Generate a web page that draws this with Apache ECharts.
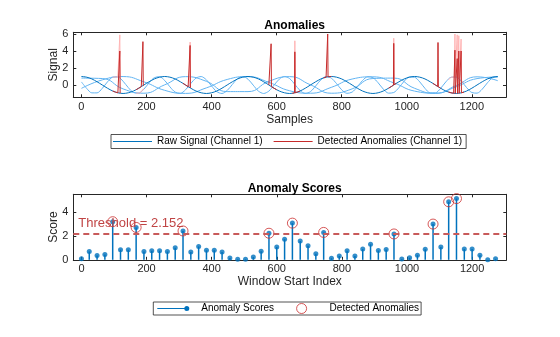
<!DOCTYPE html>
<html><head><meta charset="utf-8">
<script src="https://cdn.jsdelivr.net/npm/echarts@6/dist/echarts.min.js"></script>
<style>html,body{margin:0;padding:0;background:#fff}#c{width:560px;height:337px}</style>
</head><body><div id="c"></div>
<script>
// ---------- data ----------
const ch1Step = 16;
const ch1Values = [1,0.92,0.71,0.38,0,-0.38,-0.71,-0.92,-1,-0.92,-0.71,-0.38,0,0.38,0.71,0.92,
 1,0.92,0.71,0.38,0,-0.38,-0.71,-0.92,-1,-0.92,-0.71,-0.38,0,0.38,0.71,0.92,
 1,0.92,0.71,0.38,0,-0.38,-0.71,-0.92,-1,-0.92,-0.71,-0.38,0,0.38,0.71,0.92,
 1,0.92,0.71,0.38,0,-0.38,-0.71,-0.92,-1,-0.92,-0.71,-0.38,0,0.38,0.71,0.92,
 1,0.92,0.71,0.38,0,-0.38,-0.71,-0.92,-1,-0.92,-0.71,-0.38,0,0.38,0.71,0.92,1];
const chAStep = 16;
const chAValues = [0.36,-0.4,-0.93,-0.93,-0.4,0.36,0.91,0.94,0.44,-0.31,-0.89,-0.96,-0.49,0.26,0.86,0.97,
 0.53,-0.22,-0.84,-0.98,-0.57,0.17,0.81,0.99,0.61,-0.12,-0.78,-1,-0.65,0.07,0.75,1,
 0.68,-0.02,-0.72,-1,-0.72,-0.02,0.68,1,0.75,0.07,-0.65,-1,-0.78,-0.12,0.61,0.99,
 0.81,0.17,-0.57,-0.98,-0.84,-0.22,0.53,0.97,0.86,0.26,-0.49,-0.96,-0.89,-0.31,0.44,0.94,
 0.91,0.36,-0.4,-0.93,-0.93,-0.4,0.36,0.91,0.94,0.44,-0.31,-0.89,-0.96,-0.49,0.26,0.86,0.97];
const chBStep = 64;
const chBValues = [-0.4,0.6,0.99,0.37,-0.63,-0.99,-0.34,0.65,0.98,0.31,-0.68,-0.97,-0.28,0.7,0.96,0.25,-0.72,-0.96,-0.21,0.75,0.95];
const chCValues = [0.81,0.76,-0.46,-0.97,0.02,0.98,0.43,-0.78,-0.78,0.43,0.98,0.02,-0.97,-0.46,0.76,0.81,-0.39,-0.99,-0.06,0.96,0.5];
// detected anomaly segments of channel 1 (null separates segments)
const anomSamples = [96,104,112,117,118,119,120,null,168,176,184,188,189,190,192,null,312,320,328,333,334,335,336,null,
 576,582,583,584,592,600,null,648,655,656,657,664,672,null,744,752,756,757,758,768,null,944,952,959,960,961,968,null,
 1080,1088,1095,1096,1097,1104,null,1128,1136,1144,1147,1148,1149,1154,1155,1156,1159,1160,1161,1166,1167,1168,1176];
const anomValues = [-0.71,-0.83,-0.92,-0.96,4.0,-0.98,-0.98,null,-0.56,-0.38,-0.2,-0.1,5.1,-0.05,0,null,0.2,0,-0.2,-0.31,4.65,-0.34,-0.38,null,
 0,-0.15,4.85,-0.2,-0.38,-0.56,null,-0.98,-0.93,3.9,-0.92,-0.83,-0.71,null,0.83,0.92,0.96,6.0,0.96,1,null,-0.38,-0.2,-0.02,4.9,0.02,0.2,null,
 0.2,0,-0.17,5.0,-0.2,-0.38,null,-0.83,-0.92,-0.98,-0.99,4.1,-0.99,-1,3.1,-1,-0.98,4.0,-0.98,-0.94,4.0,-0.93,-0.83];
// anomalies on the other channels (light red)
const otherAnomSamples = [96,104,112,117,118,119,120,null,168,176,184,188,189,190,192,null,333,334,335,null,655,656,657,null,959,960,961,null,1128,1136,1147,1148,1149,1154,1155,1156,1159,1160,1161,1166,1167,1168,1176];
const otherAnomValues = [0.91,0.94,0.94,0.9,5.9,0.85,0.8,null,-0.96,-0.96,-0.8,-0.6,-0.5,-0.5,-0.49,null,-0.3,5.05,-0.3,null,-0.5,5.2,-0.5,null,0.4,5.5,0.4,null,0.6,0.91,0.94,6.0,0.94,0.9,5.9,0.9,0.85,5.8,0.8,0.6,5.4,0.55,0.2];

const windowStart = [0,24,48,72,96,120,144,168,192,216,240,264,288,312,336,360,384,408,432,456,480,504,528,552,576,600,624,648,672,696,720,744,768,792,816,840,864,888,912,936,960,984,1008,1032,1056,1080,1104,1128,1152,1176,1200,1224,1248,1272];
const scores = [0.08,0.7,0.37,0.45,3.2,0.85,0.85,2.72,0.7,0.76,0.76,0.7,1.02,2.42,0.65,1.12,0.8,0.8,0.66,0.15,0.05,0.05,0.23,0.72,2.23,1.07,1.73,3.08,1.57,1.17,0.5,2.3,0.14,0.32,0.77,0.32,0.9,1.3,0.78,0.86,2.17,0.06,0.17,0.39,0.89,3.0,1.07,4.87,5.14,0.9,0.9,0.39,0.0,0.08];
const threshold = 2.152;
const xTickValues = [0,200,400,600,800,1000,1200];
const yTickTop = [0,2,4,6];
const yTickBottom = [0,2,4];
const titles = ['Anomalies','Anomaly Scores'];
const xNames = ['Samples','Window Start Index'];
const yNames = ['Signal','Score'];
const legendTop = ['Raw Signal (Channel 1)','Detected Anomalies (Channel 1)'];
const legendBottom = ['Anomaly Scores','Detected Anomalies'];

// ---------- build ----------
const pairs = (step, vals) => vals.map((v,i)=>[i*step, v]);
const zipNull = (xs, ys) => xs.map((x,i)=> x===null ? '-' : [x, ys[i]]);
const stemData = windowStart.map((x,i)=>[x, scores[i]]);
const detData = windowStart.map((x,i)=>[x, scores[i]]).filter(d=>d[1] > threshold);

const FONT = 'Liberation Sans, Arial, sans-serif';
const AX = '#262626';
const BLUE = '#0072BD', LIGHT = '#62b4f2', RED = '#c62a2a', PINK = '#ffb4b4', CIRC = '#cc3030';
function xAx(grid, pos, labels, name){
  return {type:'value', gridIndex:grid, position:pos, min:-25, max:1305,
    axisLine:{show:true,onZero:false,lineStyle:{color:AX,width:1}},
    axisTick:{show:true,inside:true,length:3,customValues:xTickValues,lineStyle:{color:AX}},
    axisLabel:{show:labels,customValues:xTickValues,color:AX,fontSize:11,margin:4,fontFamily:FONT,formatter:v=>String(v)},
    splitLine:{show:false}, name: name||'', nameLocation:'middle', nameGap:16, nameMoveOverlap:false,
    nameTextStyle:{color:AX,fontSize:12,fontFamily:FONT}};
}
function yAx(grid, pos, labels, min, max, ticks, name){
  return {type:'value', gridIndex:grid, position:pos, min:min, max:max,
    axisLine:{show:true,onZero:false,lineStyle:{color:AX,width:1}},
    axisTick:{show:true,inside:true,length:3,customValues:ticks,lineStyle:{color:AX}},
    axisLabel:{show:labels,customValues:ticks,color:AX,fontSize:11,margin:5,fontFamily:FONT,formatter:v=>String(v)},
    splitLine:{show:false}, name:name||'', nameLocation:'middle', nameGap:14, nameRotate:90, nameMoveOverlap:false,
    nameTextStyle:{color:AX,fontSize:12,fontFamily:FONT}};
}
const lineS = (name, data, color, z, smooth) => ({type:'line', name, data, xAxisIndex:0, yAxisIndex:0, showSymbol:false, symbol:'none',
  lineStyle:{color, width:1}, itemStyle:{color}, z, silent:true, connectNulls:false, smooth: smooth||false});
// legend carriers (no marks) so the legend icons take the series colours
const legendCarrier = (name, color) => ({type:'bar', name, data:[], xAxisIndex:0, yAxisIndex:0, itemStyle:{color}, silent:true});
const LINE_ICON = 'path://M0,0h40v1h-40z';

const option = {
  animation:false,
  textStyle:{fontFamily:FONT},
  title:[
    {text:titles[0], left:289.7, top:15, textAlign:'center', textStyle:{fontSize:12,fontWeight:'bold',color:'#000',fontFamily:FONT}},
    {text:titles[1], left:289.7, top:177.5, textAlign:'center', textStyle:{fontSize:12,fontWeight:'bold',color:'#000',fontFamily:FONT}}
  ],
  grid:[{left:73.3, top:32.3, width:432.7, height:65},{left:73.3, top:194.3, width:433, height:65.5}],
  xAxis:[xAx(0,'bottom',true,xNames[0]), xAx(0,'top',false), xAx(1,'bottom',true,xNames[1]), xAx(1,'top',false)],
  yAxis:[yAx(0,'left',true,-1.45,6.2,yTickTop,yNames[0]), yAx(0,'right',false,-1.45,6.2,yTickTop),
         yAx(1,'left',true,0,5.5,yTickBottom,yNames[1]), yAx(1,'right',false,0,5.5,yTickBottom)],
  legend:[
    {data:[{name:legendTop[0], icon:LINE_ICON, itemStyle:{color:BLUE, borderWidth:0}},
           {name:legendTop[1], icon:LINE_ICON, itemStyle:{color:RED, borderWidth:0}}],
     left:111, top:134.5, itemWidth:39, itemHeight:10, itemGap:11, padding:[2,4,2,2],
     borderColor:AX, borderWidth:0.8, textStyle:{fontSize:10,color:'#000',fontFamily:FONT}},
    {data:[{name:legendBottom[0], icon:'path://M0,2h29v1h-29z M32,2.5a2.5,2.5 0 1,1 -5,0a2.5,2.5 0 1,1 5,0z', itemStyle:{color:BLUE}},
           {name:legendBottom[1], icon:'circle', itemStyle:{color:'rgba(0,0,0,0)', borderColor:CIRC, borderWidth:1}}],
     left:153.3, top:302, itemWidth:32, itemHeight:10, itemGap:22, padding:[1,2,1,4],
     borderColor:AX, borderWidth:0.8, textStyle:{fontSize:10,color:'#000',fontFamily:FONT, padding:[0,0,0,7]}}
  ],
  series:[
    legendCarrier(legendTop[0], BLUE),
    legendCarrier(legendTop[1], RED),
    lineS('chB', pairs(chBStep, chBValues), LIGHT, 1, true),
    lineS('chC', pairs(chBStep, chCValues), LIGHT, 1, true),
    lineS('chA', pairs(chAStep, chAValues), LIGHT, 1, 0.3),
    lineS('otherAnom', zipNull(otherAnomSamples, otherAnomValues), PINK, 2),
    lineS(legendTop[0], pairs(ch1Step, ch1Values), BLUE, 3, 0.3),
    lineS(legendTop[1], zipNull(anomSamples, anomValues), RED, 4),
    {type:'bar', name:legendBottom[0], xAxisIndex:2, yAxisIndex:2, data:stemData, barWidth:1.5,
     itemStyle:{color:BLUE}, silent:true, z:2,
     markLine:{silent:true, symbol:['none','none'], data:[{yAxis:threshold}],
       lineStyle:{color:'#c85a5a', width:2, type:[6,4]},
       label:{show:true, position:'insideStartTop', formatter:'Threshold = ' + threshold, color:'#c04444', fontSize:13, distance:[5,4]}}},
    {type:'scatter', name:legendBottom[0], xAxisIndex:2, yAxisIndex:2, data:stemData, symbolSize:5,
     itemStyle:{color:BLUE}, silent:true, z:3},
    {type:'scatter', name:legendBottom[1], xAxisIndex:2, yAxisIndex:2, data:detData, symbol:'circle', symbolSize:10,
     itemStyle:{color:'rgba(0,0,0,0)', borderColor:CIRC, borderWidth:1}, silent:true, z:4}
  ]
};
const chart = echarts.init(document.getElementById('c'));
chart.setOption(option);
</script></body></html>
